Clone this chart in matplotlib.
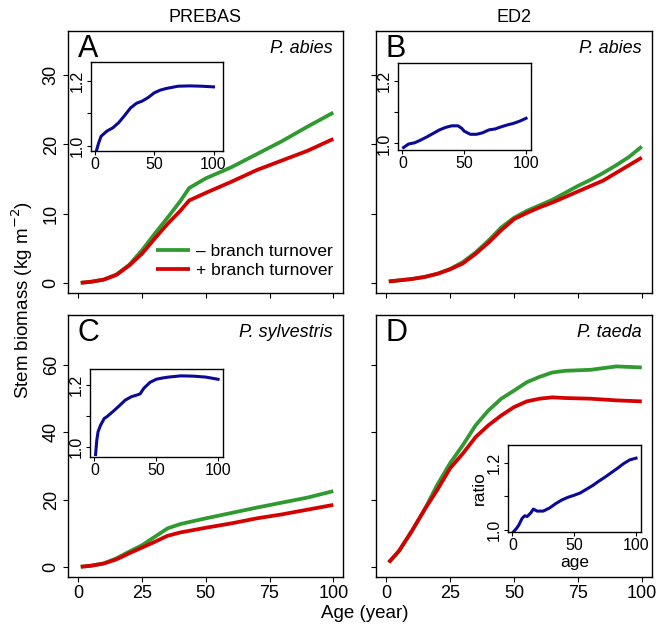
import matplotlib
matplotlib.use("Agg")
import matplotlib.pyplot as plt

plt.rcParams.update({
    "font.family": ["Liberation Sans", "DejaVu Sans"],
    "font.size": 12.5,
    "axes.linewidth": 1.0,
})

GREEN = "#2f9a2f"
RED = "#d50000"
BLUE = "#0a0a96"

# --- panel A: PREBAS, P. abies ---
a_age = [1, 5, 10, 15, 20, 25, 30, 35, 40, 43.5, 50, 60, 70, 80, 90, 100]
a_minus = [0, 0.15, 0.47, 1.2, 2.6, 4.7, 7.1, 9.4, 11.8, 13.7, 15.1, 16.7, 18.6, 20.5, 22.6, 24.6]
a_plus = [0, 0.15, 0.45, 1.15, 2.5, 4.2, 6.4, 8.5, 10.4, 11.9, 13.0, 14.6, 16.3, 17.7, 19.1, 20.8]
a_ratio_age = [1, 3, 5, 10, 15, 20, 25, 30, 35, 40, 45, 50, 55, 60, 70, 80, 90, 100]
a_ratio = [0.985, 1.01, 1.03, 1.046, 1.056, 1.072, 1.094, 1.117, 1.131, 1.138, 1.149,
           1.163, 1.171, 1.176, 1.183, 1.184, 1.183, 1.181]

# --- panel B: ED2, P. abies ---
b_age = [1, 5, 10, 15, 20, 25, 30, 35, 40, 45, 50, 55, 60, 65, 70, 75, 80, 85, 90, 95, 100]
b_minus = [0.2, 0.35, 0.55, 0.85, 1.3, 2.0, 3.0, 4.4, 6.1, 8.0, 9.4, 10.4, 11.2, 12.0,
           13.0, 14.0, 14.9, 15.9, 17.0, 18.2, 19.7]
b_plus = [0.2, 0.35, 0.55, 0.85, 1.3, 1.95, 2.8, 4.2, 5.8, 7.6, 9.2, 10.1, 10.9, 11.6,
          12.4, 13.2, 14.0, 14.8, 15.9, 17.0, 18.1]
b_ratio_age = [1, 5, 10, 15, 20, 25, 30, 35, 40, 45, 48, 50, 55, 60, 65, 70, 75, 80, 85, 90, 95, 100]
b_ratio = [0.987, 0.998, 1.002, 1.011, 1.021, 1.032, 1.043, 1.051, 1.056, 1.056, 1.048,
           1.039, 1.029, 1.029, 1.034, 1.043, 1.046, 1.053, 1.059, 1.064, 1.071, 1.080]

# --- panel C: PREBAS, P. sylvestris ---
c_age = [1, 5, 10, 15, 20, 25, 30, 35, 40, 50, 60, 70, 80, 90, 100]
c_minus = [0, 0.3, 1.0, 2.5, 4.5, 6.4, 8.9, 11.4, 12.7, 14.4, 16.0, 17.6, 19.1, 20.6, 22.5]
c_plus = [0, 0.3, 0.95, 2.2, 4.0, 5.7, 7.4, 9.2, 10.2, 11.6, 12.9, 14.4, 15.6, 17.0, 18.4]
c_ratio_age = [1, 2, 3, 5, 8, 10, 15, 20, 25, 30, 35, 37, 40, 45, 50, 55, 60, 70, 80, 90, 100]
c_ratio = [0.976, 1.022, 1.049, 1.070, 1.092, 1.097, 1.114, 1.132, 1.151, 1.162, 1.168,
           1.171, 1.189, 1.208, 1.218, 1.222, 1.225, 1.229, 1.228, 1.225, 1.218]

# --- panel D: ED2, P. taeda ---
d_age = [1, 5, 10, 15, 20, 25, 30, 35, 40, 45, 50, 55, 60, 65, 70, 80, 90, 100]
d_minus = [1.3, 4.7, 10.6, 17.0, 24.4, 30.8, 36.2, 42.1, 46.5, 50.0, 52.4, 54.9, 56.5,
           57.8, 58.3, 58.6, 59.6, 59.3]
d_plus = [1.3, 4.7, 10.6, 17.0, 22.9, 29.3, 33.7, 38.6, 42.1, 45.0, 47.5, 49.2, 50.0,
          50.4, 50.2, 50.0, 49.5, 49.2]
d_ratio_age = [1, 3, 5, 8, 10, 12, 15, 17, 20, 25, 30, 35, 40, 45, 50, 55, 60, 65, 70,
               75, 80, 85, 90, 95, 100]
d_ratio = [0.995, 1.003, 1.013, 1.035, 1.042, 1.040, 1.051, 1.062, 1.056, 1.056, 1.065,
           1.078, 1.089, 1.097, 1.103, 1.110, 1.121, 1.132, 1.145, 1.157, 1.170, 1.183,
           1.197, 1.208, 1.213]

W, H = 658, 627


def px_rect(l, t, r, b):
    return [l / W, (H - b) / H, (r - l) / W, (b - t) / H]


fig = plt.figure(figsize=(W / 100, H / 100), dpi=100)

panels = [
    dict(rect=px_rect(68, 31, 343.5, 292.5), age=a_age, minus=a_minus, plus=a_plus,
         ylim=(-1.4, 36.4), yticks=[0, 10, 20, 30], ylab=True, xlab=False,
         letter="A", species="P. abies",
         inset=px_rect(91, 62, 223, 151), rage=a_ratio_age, ratio=a_ratio,
         rxlim=(-3.5, 108), rylim=(0.985, 1.257)),
    dict(rect=px_rect(376, 31, 652, 292.5), age=b_age, minus=b_minus, plus=b_plus,
         ylim=(-1.4, 36.4), yticks=[0, 10, 20, 30], ylab=False, xlab=False,
         letter="B", species="P. abies",
         inset=px_rect(398, 63, 531, 150), rage=b_ratio_age, ratio=b_ratio,
         rxlim=(-3.5, 104), rylim=(0.979, 1.256)),
    dict(rect=px_rect(68, 315, 343.5, 576.5), age=c_age, minus=c_minus, plus=c_plus,
         ylim=(-2.9, 74.9), yticks=[0, 20, 40, 60], ylab=True, xlab=True,
         letter="C", species="P. sylvestris",
         inset=px_rect(90, 369, 223, 457), rage=c_ratio_age, ratio=c_ratio,
         rxlim=(-3.5, 104), rylim=(0.968, 1.251)),
    dict(rect=px_rect(376, 315, 652, 576.5), age=d_age, minus=d_minus, plus=d_plus,
         ylim=(-2.9, 74.9), yticks=[0, 20, 40, 60], ylab=False, xlab=True,
         letter="D", species="P. taeda",
         inset=px_rect(508, 445, 641, 532), rage=d_ratio_age, ratio=d_ratio,
         rxlim=(-3.5, 104), rylim=(0.994, 1.252)),
]

for i, p in enumerate(panels):
    ax = fig.add_axes(p["rect"])
    ax.plot(p["age"], p["minus"], color=GREEN, lw=2.7, solid_capstyle="butt",
            label="\u2013 branch turnover")
    ax.plot(p["age"], p["plus"], color=RED, lw=2.7, solid_capstyle="butt",
            label="+ branch turnover")
    ax.set_xlim(-4, 104)
    ax.set_ylim(*p["ylim"])
    ax.set_xticks([0, 25, 50, 75, 100])
    ax.set_yticks(p["yticks"])
    ax.tick_params(direction="out", length=3.5, width=0.8, labelsize=13, pad=2.5)
    if not p["xlab"]:
        ax.set_xticklabels([])
    if p["ylab"]:
        plt.setp(ax.get_yticklabels(), rotation=90, va="center")
    else:
        ax.set_yticklabels([])
    ax.text(0.035, 0.902, p["letter"], transform=ax.transAxes, fontsize=22,
            ha="left", va="baseline")
    ax.text(0.962, 0.917, p["species"], transform=ax.transAxes, fontsize=13,
            style="italic", ha="right", va="baseline")
    if i == 0:
        ax.legend(loc="center left", bbox_to_anchor=(0.319, 0.12), frameon=False,
                  fontsize=12.5, handlelength=1.95, handletextpad=0.38,
                  labelspacing=0.22, borderaxespad=0, borderpad=0)

    ins = fig.add_axes(p["inset"])
    ins.plot(p["rage"], p["ratio"], color=BLUE, lw=2.2)
    ins.set_xlim(*p["rxlim"])
    ins.set_ylim(*p["rylim"])
    ins.set_xticks([0, 50, 100])
    ins.set_yticks([1.0, 1.1, 1.2])
    ins.set_yticklabels(["1.0", "", "1.2"])
    ins.tick_params(direction="out", length=3, width=0.8, labelsize=11.5, pad=1.5)
    plt.setp(ins.get_yticklabels(), rotation=90, va="center")
    if i == 3:
        ins.set_xlabel("age", fontsize=12.5, labelpad=1)
        ins.set_ylabel("ratio", fontsize=12.5, labelpad=0)

fig.text(205.5 / W, 1 - 22 / H, "PREBAS", ha="center", va="baseline", fontsize=13)
fig.text(514 / W, 1 - 22 / H, "ED2", ha="center", va="baseline", fontsize=13)
fig.text(22 / W, 1 - 300 / H, r"Stem biomass (kg m$^{-2}$)", rotation=90,
         ha="center", va="center", fontsize=13.5)
fig.text(365 / W, 1 - 618 / H, "Age (year)", ha="center", va="baseline", fontsize=13.5)

fig.savefig("out.png", dpi=100)
